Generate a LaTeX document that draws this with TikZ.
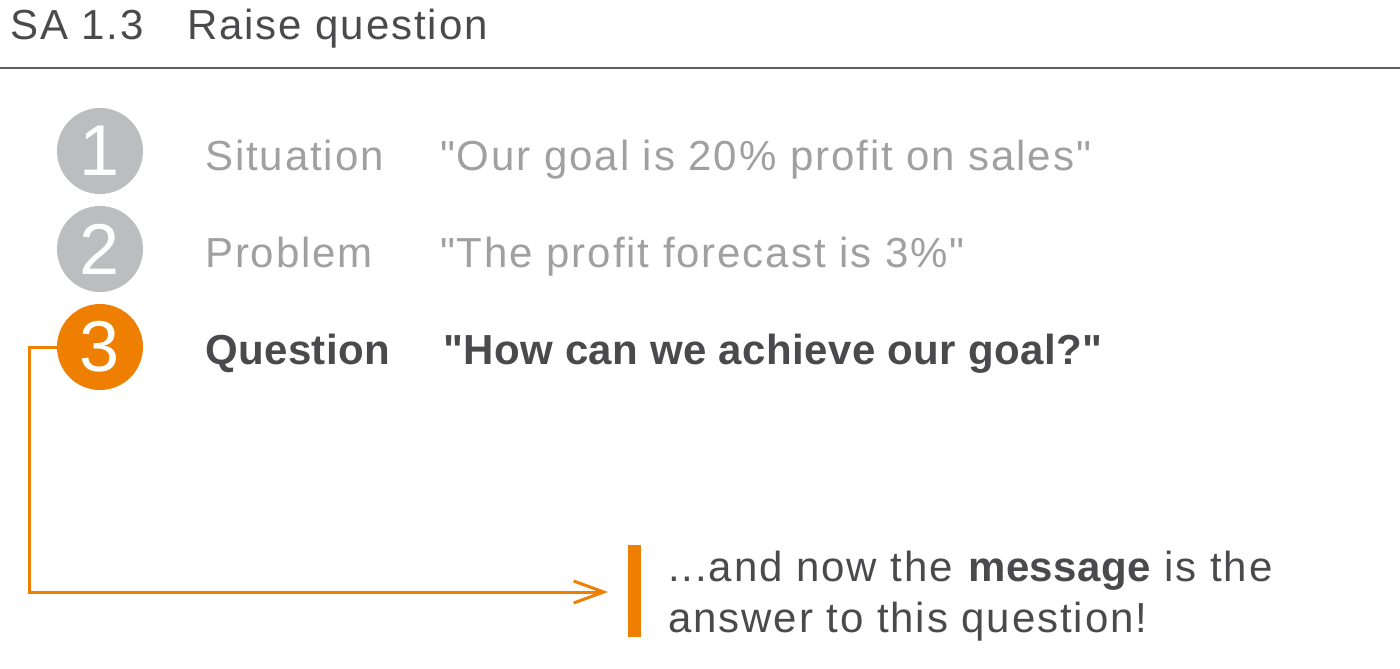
\documentclass[tikz,border=0pt]{standalone}
\usepackage{fontspec}
\setmainfont{Liberation Sans}[Ligatures=TeXOff, LetterSpace=4.5, BoldFeatures={LetterSpace=1}]
\newfontfamily\numfont{Liberation Sans}
\usetikzlibrary{arrows.meta}
\definecolor{orng}{HTML}{EE7F00}
\definecolor{circgray}{HTML}{BCBDBF}
\definecolor{txtgray}{HTML}{A0A0A2}
\definecolor{txtdark}{HTML}{4A4A4C}
\definecolor{rulegray}{HTML}{606060}
\begin{document}
\begin{tikzpicture}[x=1pt,y=-1pt,
  numcirc/.style={circle, minimum size=86pt, inner sep=0pt, text=white,
    font=\numfont\fontsize{72}{72}\selectfont},
  txt/.style={anchor=base west, inner sep=0pt, font=\fontsize{42}{50}\selectfont},
  flow/.style={draw=orng, line width=3pt}]
\useasboundingbox (0,0) rectangle (1400,669);
% title
\node[txt, text=txtdark] (sa) at (10,40) {SA 1.3};
\node[txt, text=txtdark] (title) at (187,40) {Raise question};
\draw[rulegray, line width=2pt] (0,68) -- (1400,68);
% items
\node[numcirc, fill=circgray] (c1) at (100,151) {1};
\node[numcirc, fill=circgray] (c2) at (100,249) {2};
\node[numcirc, fill=orng] (c3) at (100,347) {3};
\node[txt, text=txtgray] (l1) at (205,170) {Situation};
\node[txt, text=txtgray] (q1) at (440,170) {"Our goal is 20\% profit on sales"};
\node[txt, text=txtgray] (l2) at (205,267) {Problem};
\node[txt, text=txtgray] (q2) at (440,267) {"The profit forecast is 3\%"};
\node[txt, text=txtdark, font=\fontsize{42}{50}\selectfont\bfseries] (l3) at (205,364) {Question};
\node[txt, text=txtdark, font=\fontsize{42}{50}\selectfont\bfseries] (q3) at (443,364) {"How can we achieve our goal?"};
% message
\fill[orng] (628,545) rectangle (641,637);
\coordinate (bar) at (608,592);
\node[txt, text=txtdark] (m1) at (668,581) {...and now the \textbf{message} is the};
\node[txt, text=txtdark] (m2) at (668,632) {answer to this question!};
% connector
\coordinate (turn) at (29,592);
\draw[flow, -{Straight Barb[length=30pt,width=22pt,line width=3pt]}]
  (c3.west) -- (29,347) -- (turn) -- (bar);
\end{tikzpicture}
\end{document}
